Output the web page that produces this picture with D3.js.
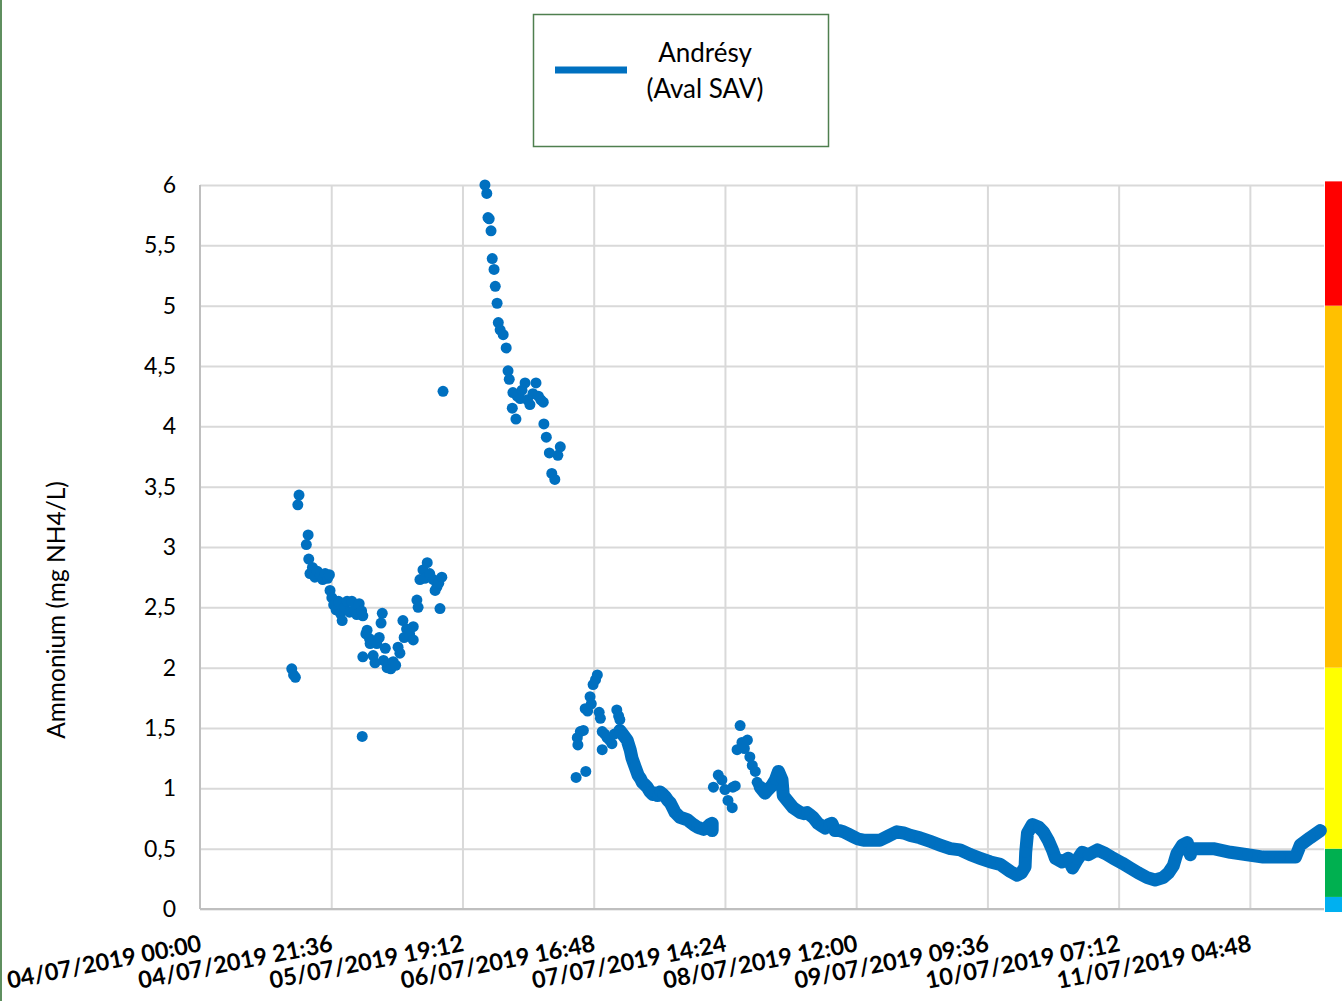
<!DOCTYPE html>
<html><head><meta charset="utf-8">
<script src="https://cdn.jsdelivr.net/npm/d3@7"></script>
<style>
html,body{margin:0;padding:0;background:#fff;}
svg{display:block;}
text{font-family:Lato,"Open Sans",sans-serif;fill:#000;}
</style></head>
<body>
<svg id="chart" width="1342" height="1001"></svg>
<script>
// ---- DATA (hours since 04/07/2019 00:00, ammonium mg NH4/L) ----
const seriesName = ["Andrésy", "(Aval SAV)"];
const xTickLabels = ["04/07/2019 00:00","04/07/2019 21:36","05/07/2019 19:12","06/07/2019 16:48",
  "07/07/2019 14:24","08/07/2019 12:00","09/07/2019 09:36","10/07/2019 07:12","11/07/2019 04:48"];
const xTickHours = [0, 21.6, 43.2, 64.8, 86.4, 108, 129.6, 151.2, 172.8];
const yTickValues = [0,0.5,1,1.5,2,2.5,3,3.5,4,4.5,5,5.5,6];
const yTickLabels = ["0","0,5","1","1,5","2","2,5","3","3,5","4","4,5","5","5,5","6"];
const qualityBounds = [-0.025, 0.1, 0.5, 2, 5, 6.03];
const qualityColors = ["#00b0f0","#00b050","#ffff00","#ffc000","#ff0000"];

// scattered measurements (dots only)
const scatterA = [[15.1,1.99],[15.4,1.94],[15.7,1.92],[16.1,3.35],[16.3,3.43],[17.5,3.02],[17.8,3.10],[17.9,2.90],
 [18.1,2.78],[18.5,2.83],[18.9,2.75],[19.3,2.80],[19.8,2.77],[20.2,2.73],[20.6,2.78],[21.0,2.74],[21.3,2.77],
 [21.4,2.64],[21.7,2.58],[22.0,2.52],[22.4,2.48],[22.8,2.55],[23.1,2.45],[23.4,2.39],[23.8,2.50],[24.2,2.55],
 [24.6,2.46],[25.0,2.55],[25.4,2.48],[25.8,2.44],[26.2,2.53],[26.6,2.47],[26.8,2.43],[26.8,2.09],[26.7,1.43],
 [27.3,2.28],[27.5,2.31],[27.9,2.24],[28.0,2.20],[28.5,2.10],[28.8,2.04],[29.1,2.20],[29.5,2.25],[29.8,2.37],
 [30.0,2.45],[30.2,2.06],[30.5,2.16],[30.8,2.00],[31.1,2.03],[31.4,1.99],[31.8,2.05],[32.2,2.02],[32.6,2.17],
 [32.9,2.12],[33.4,2.39],[33.6,2.25],[34.0,2.32],[34.5,2.28],[35.1,2.34],[35.1,2.23],[35.7,2.56],[35.9,2.50],
 [36.2,2.73],[36.7,2.81],[37.0,2.74],[37.4,2.87],[37.8,2.78],[38.4,2.73],[38.7,2.64],[39.0,2.67],[39.3,2.70],
 [39.5,2.49],[39.8,2.75],[40.0,4.29]];
const scatterB = [[46.9,6.00],[47.2,5.93],[47.4,5.73],[47.6,5.72],[47.9,5.62],[48.1,5.39],[48.4,5.30],[48.6,5.16],
 [48.9,5.02],[49.1,4.86],[49.4,4.80],[49.9,4.76],[50.4,4.65],[50.7,4.46],[50.9,4.39],[51.4,4.15],[51.5,4.28],
 [52.0,4.06],[52.2,4.25],[52.7,4.23],[53.0,4.30],[53.5,4.36],[53.9,4.22],[54.3,4.18],[54.8,4.27],[55.3,4.36],
 [55.7,4.25],[56.1,4.22],[56.5,4.20],[56.6,4.02],[57.0,3.91],[57.5,3.78],[57.9,3.61],[58.4,3.56],[58.9,3.76],[59.3,3.83]];
const scatterC = [[61.9,1.09],[62.1,1.42],[62.2,1.36],[62.6,1.47],[63.1,1.48],[63.4,1.66],[63.5,1.14],[63.8,1.64],
 [64.2,1.76],[64.4,1.70],[64.7,1.86],[65.1,1.90],[65.4,1.94],[65.7,1.63],[65.9,1.58],[66.2,1.32],[66.2,1.47],
 [66.6,1.45],[67.0,1.42],[67.4,1.40],[67.8,1.37],[68.2,1.45],[68.6,1.65],[68.9,1.60],[69.1,1.57]];
const scatterD = [[84.5,1.01],[85.3,1.11],[85.9,1.07],[86.4,0.99],[86.9,0.90],[87.6,0.84],[87.7,1.01],[88.1,1.02],
 [88.4,1.32],[88.9,1.52],[89.2,1.38],[89.6,1.33],[90.1,1.40],[90.5,1.26],[90.9,1.19],[91.4,1.14],[91.7,1.05]];
// dense measurement runs (dots joined into a trail)
const trail1 = [[69.1,1.48],[69.7,1.44],[70.3,1.40],[70.8,1.32],[71.1,1.25],[71.6,1.18],[72.1,1.11],[72.5,1.08],
 [72.8,1.05],[73.2,1.03],[73.6,1.01],[74.1,0.97],[74.5,0.95],[74.9,0.96],[75.3,0.94],[75.7,0.97],[76.2,0.95],
 [76.6,0.93],[77.0,0.90],[77.4,0.88],[77.8,0.84],[78.2,0.80],[78.6,0.78],[79.0,0.76],[79.6,0.75],[80.2,0.74],
 [80.7,0.72],[81.2,0.70],[81.8,0.68],[82.3,0.67],[82.9,0.66],[83.5,0.68],[83.9,0.70],[84.3,0.71],[84.3,0.65]];
const trail2 = [[92.2,1.01],[93.0,0.96],[93.5,0.99],[94.1,1.02],[94.7,1.07],[95.2,1.14],[95.8,1.07],[96.0,0.94],
 [96.8,0.89],[97.6,0.84],[98.2,0.82],[98.8,0.80],[99.4,0.79],[99.9,0.80],[100.4,0.78],[100.9,0.76],[101.7,0.71],
 [102.3,0.69],[102.9,0.67],[103.5,0.70],[104.0,0.71],[104.5,0.65],[105.2,0.65],[105.9,0.64],[106.7,0.62],
 [107.5,0.60],[108.3,0.58],[109.2,0.57],[110.3,0.57],[111.5,0.57],[111.9,0.57],[113.1,0.60],[114.7,0.64],
 [115.8,0.63],[116.9,0.61],[118.5,0.59],[120.2,0.56],[121.8,0.53],[123.5,0.50],[125.1,0.49],[126.8,0.45],
 [128.4,0.42],[130.1,0.39],[131.7,0.37],[133.4,0.31],[134.5,0.28],[135.2,0.30],[135.8,0.35],[135.9,0.47],
 [136.2,0.63],[137.0,0.70],[138.0,0.68],[138.8,0.64],[139.6,0.57],[140.3,0.49],[140.8,0.42],[141.9,0.39],
 [142.9,0.42],[143.6,0.34],[144.4,0.41],[145.2,0.47],[146.2,0.45],[147.7,0.49],[149.0,0.46],[150.3,0.42],
 [151.8,0.38],[153.1,0.34],[154.4,0.30],[155.9,0.26],[157.2,0.24],[158.5,0.26],[159.4,0.30],[160.2,0.36],
 [160.8,0.46],[161.7,0.53],[162.5,0.55],[163.0,0.45],[163.2,0.50],[164.6,0.50],[166.8,0.50],[169.6,0.47],
 [172.4,0.45],[175.0,0.43],[177.8,0.43],[180.3,0.43],[181.1,0.53],[182.7,0.59],[184.4,0.65]];

// ---- LAYOUT ----
const svg = d3.select("#chart");
const L = 200, R = 1324, T = 185, B = 909;
const x = d3.scaleLinear().domain([0, 185]).range([L, R]);
const y = d3.scaleLinear().domain([0, 6]).range([B, T]);
const blue = "#0070c0";

// outer left border
svg.append("line").attr("x1",1).attr("x2",1).attr("y1",0).attr("y2",1001)
  .attr("stroke","#5f8f5f").attr("stroke-width",2);

// grid
const gy = svg.append("g").attr("transform",`translate(${L},0)`)
  .call(d3.axisLeft(y).tickValues(yTickValues).tickSize(-(R-L)).tickFormat(""));
gy.select(".domain").remove();
gy.selectAll(".tick line").attr("stroke","#d9d9d9").attr("stroke-width",2);
const gx = svg.append("g").attr("transform",`translate(0,${B})`)
  .call(d3.axisBottom(x).tickValues(xTickHours.slice(1)).tickSize(-(B-T)).tickFormat(""));
gx.select(".domain").remove();
gx.selectAll(".tick line").attr("stroke","#d9d9d9").attr("stroke-width",2);

// axis lines
svg.append("line").attr("x1",L).attr("x2",L).attr("y1",T).attr("y2",B).attr("stroke","#bfbfbf").attr("stroke-width",2);
svg.append("line").attr("x1",L).attr("x2",R).attr("y1",B).attr("y2",B).attr("stroke","#bfbfbf").attr("stroke-width",2);

// y labels
const ya = svg.append("g").attr("transform",`translate(${L},0)`)
  .call(d3.axisLeft(y).tickValues(yTickValues).tickSize(0).tickPadding(24)
    .tickFormat((d,i)=>yTickLabels[i]));
ya.select(".domain").remove();
ya.selectAll("text").style("font-family","Lato, sans-serif").style("font-size","23px").attr("fill","#000");

// x labels
const xa = svg.append("g").attr("transform",`translate(0,${B})`)
  .call(d3.axisBottom(x).tickValues(xTickHours).tickSize(0).tickFormat((d,i)=>xTickLabels[i]));
xa.select(".domain").remove();
xa.selectAll("text")
  .style("font-family","Lato, sans-serif").style("font-size","23.5px").style("font-weight","bold").attr("fill","#000")
  .attr("text-anchor","end").attr("dy",null).attr("y",0)
  .attr("transform","translate(2,42) rotate(-11)");

// y title
svg.append("text").attr("transform","translate(65,610) rotate(-90)")
  .attr("text-anchor","middle").style("font-size","24.5px").text("Ammonium (mg NH4/L)");

// quality colour bar
const bands = qualityColors.map((c,i)=>({c, lo:qualityBounds[i], hi:qualityBounds[i+1]}));
svg.append("g").selectAll("rect").data(bands).join("rect")
  .attr("x",1325).attr("width",17)
  .attr("y",d=>y(d.hi)).attr("height",d=>y(d.lo)-y(d.hi))
  .attr("fill",d=>d.c);

// data
const plot = svg.append("g");
const line = d3.line().x(d=>x(d[0])).y(d=>y(d[1]));
[trail1, trail2].forEach(tr=>{
  plot.append("path").datum(tr).attr("d",line).attr("fill","none")
    .attr("stroke",blue).attr("stroke-width",13).attr("stroke-linejoin","round").attr("stroke-linecap","round");
});
const allPts = [].concat(scatterA, scatterB, scatterC, scatterD, trail1, trail2);
plot.selectAll("circle").data(allPts).join("circle")
  .attr("cx",d=>x(d[0])).attr("cy",d=>y(d[1])).attr("r",5.5).attr("fill",blue);

// legend
const lg = svg.append("g");
lg.append("rect").attr("x",533.5).attr("y",14.5).attr("width",295).attr("height",132)
  .attr("fill","#fff").attr("stroke","#4f7f4f").attr("stroke-width",1.5);
lg.append("line").attr("x1",555).attr("x2",627).attr("y1",70).attr("y2",70)
  .attr("stroke",blue).attr("stroke-width",7);
lg.selectAll("text.lt").data(seriesName).join("text").attr("class","lt")
  .attr("x",705).attr("y",(d,i)=>62+i*36).attr("text-anchor","middle")
  .style("font-size","26px").text(d=>d);
</script>
</body></html>
